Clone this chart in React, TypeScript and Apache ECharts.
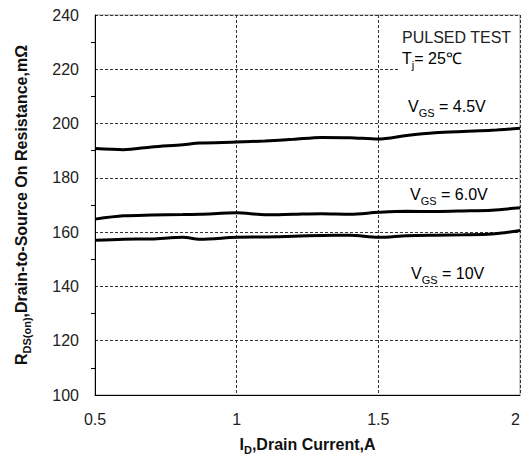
import React, { useEffect, useRef } from "react";
import * as echarts from "echarts";

const ID = [0.5, 0.6, 0.7, 0.81, 0.87, 1.0, 1.1, 1.2, 1.3, 1.4, 1.5, 1.6, 1.7, 1.8, 1.9, 2.0];
const R_VGS45 = [190.8, 190.4, 191.4, 192.2, 192.8, 193.2, 193.6, 194.2, 194.9, 194.8, 194.3, 195.6, 196.6, 197.1, 197.5, 198.3];
const R_VGS60 = [164.8, 166.0, 166.3, 166.5, 166.6, 167.1, 166.4, 166.6, 166.8, 166.6, 167.3, 167.7, 167.6, 167.8, 168.1, 169.0];
const R_VGS10 = [157.0, 157.4, 157.5, 158.1, 157.4, 158.1, 158.2, 158.5, 158.8, 158.9, 158.1, 158.7, 158.9, 159.0, 159.3, 160.6];
const SERIES_NAMES = ["VGS=4.5V", "VGS=6.0V", "VGS=10V"];

const FONT = "'Liberation Sans', Arial, sans-serif";

export default function App() {
  const ref = useRef<HTMLDivElement>(null);
  useEffect(() => {
    if (!ref.current) return;
    const chart = echarts.init(ref.current, null, { renderer: "svg" });
    const mk = (ys: number[]) => ID.map((x, i) => [x, ys[i]]);
    const richMain = { fontSize: 16, fontFamily: FONT, color: "#222", verticalAlign: "bottom", lineHeight: 18 };
    const richSub = { fontSize: 11, fontFamily: FONT, color: "#222", verticalAlign: "bottom", lineHeight: 14, padding: [0, 0, -4, 0] };
    const vgsText = (x: number, y: number, val: string) => ({
      type: "text",
      x,
      y,
      style: {
        text: `{m|V}{s|GS}{m| = ${val}}`,
        rich: { m: richMain, s: richSub },
        verticalAlign: "middle",
      },
    });
    const nameRich = {
      b: { fontSize: 16, fontWeight: "bold", fontFamily: FONT, color: "#111", verticalAlign: "bottom", lineHeight: 18 },
      s: { fontSize: 11, fontWeight: "bold", fontFamily: FONT, color: "#111", verticalAlign: "bottom", lineHeight: 14, padding: [0, 0, -3, 0] },
    };
    chart.setOption({
      animation: false,
      backgroundColor: "#fff",
      grid: {
        left: 95,
        top: 15,
        right: 2,
        bottom: 63,
        outerBoundsMode: "none",
        containLabel: false,
        show: true,
        borderColor: "#999",
        borderWidth: 1,
      },
      xAxis: {
        type: "value",
        min: 0.5,
        max: 2,
        interval: 0.5,
        axisLine: { show: true, onZero: false, lineStyle: { color: "#000", width: 1 } },
        axisTick: { show: false },
        axisLabel: { fontSize: 16, fontFamily: FONT, color: "#222", margin: 16, alignMaxLabel: "right" },
        splitLine: { show: true, lineStyle: { color: "#333", type: [3, 2], width: 1 } },
        name: "{b|I}{s|D}{b|,Drain Current,A}",
        nameLocation: "middle",
        nameGap: 39,
        nameTextStyle: { rich: nameRich },
      },
      yAxis: {
        type: "value",
        min: 100,
        max: 240,
        interval: 20,
        axisLine: { show: true, onZero: false, lineStyle: { color: "#000", width: 1 } },
        axisTick: { show: false },
        minorTick: { show: true, splitNumber: 2, length: 4, inside: true, lineStyle: { color: "#000" } },
        axisLabel: { fontSize: 16, fontFamily: FONT, color: "#222", margin: 16 },
        splitLine: { show: true, lineStyle: { color: "#333", type: [3, 2], width: 1 } },
        name: "{b|R}{s|DS(on)}{b|,Drain-to-Source On Resistance,mΩ}",
        nameLocation: "middle",
        nameGap: 66,
        nameTextStyle: { rich: nameRich },
      },
      series: [R_VGS45, R_VGS60, R_VGS10].map((ys, i) => ({
        name: SERIES_NAMES[i],
        type: "line",
        smooth: 0.3,
        showSymbol: false,
        data: mk(ys),
        lineStyle: { color: "#000", width: 3 },
      })),
      graphic: [
        { type: "rect", shape: { x: 398, y: 16, width: 121, height: 56 }, style: { fill: "#fff" }, z: 50 },
        {
          type: "text",
          x: 402,
          y: 37,
          z: 60,
          style: { text: "PULSED TEST", fontSize: 16, fontFamily: FONT, fill: "#222", verticalAlign: "middle" },
        },
        {
          type: "text",
          x: 402,
          y: 57,
          z: 60,
          style: {
            text: "{m|T}{s|j}{m|= 25℃}",
            rich: { m: richMain, s: richSub },
            verticalAlign: "middle",
          },
        },
        { ...vgsText(408, 105, "4.5V"), z: 60 },
        { ...vgsText(410, 193, "6.0V"), z: 60 },
        { ...vgsText(411, 272, "10V"), z: 60 },
      ],
    });
    return () => chart.dispose();
  }, []);
  return <div ref={ref} style={{ width: 522, height: 458, position: "fixed", left: 0, top: 0 }} />;
}
